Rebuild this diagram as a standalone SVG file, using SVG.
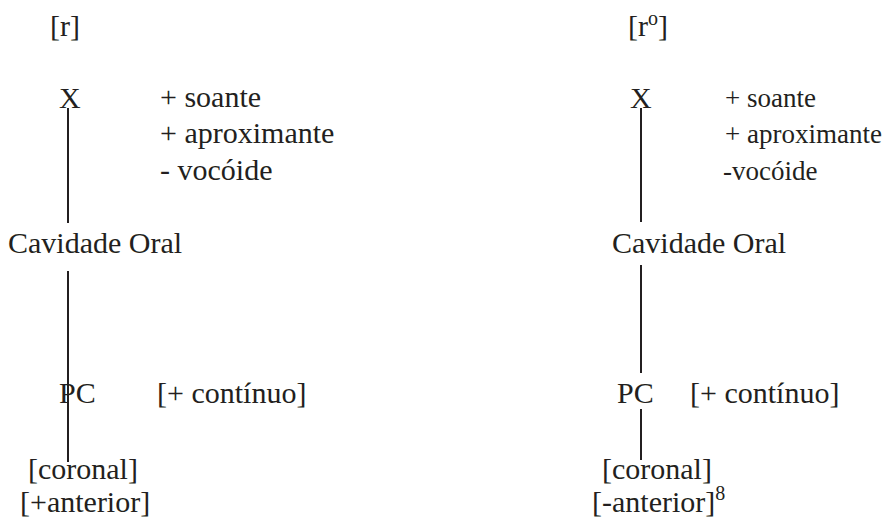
<svg xmlns="http://www.w3.org/2000/svg" width="886" height="517" viewBox="0 0 886 517">
<defs>
<style>
.c{stroke:#231f20;stroke-width:2;fill:none}
.t{font-family:"Liberation Serif","Times New Roman",serif;font-size:30px;fill:#231f20}
.f{font-size:27px}
</style>
</defs>
<rect width="886" height="517" fill="#fff"/>
<g id="connectors">
<line class="c" x1="68" y1="108" x2="68" y2="223"/>
<line class="c" x1="68" y1="271" x2="68" y2="462"/>
<line class="c" x1="641" y1="108" x2="641" y2="222"/>
<line class="c" x1="641" y1="265" x2="641" y2="373"/>
<line class="c" x1="641" y1="409" x2="641" y2="460"/>
</g>
<g class="t">
<g id="left-label"><text x="50" y="36">[r]</text></g>
<g id="left-X"><text x="59" y="108">X</text></g>
<g id="left-features"><text x="160" y="107">+ soante</text><text x="160" y="143">+ aproximante</text><text x="160" y="180">- vocóide</text></g>
<g id="left-cavidade"><text x="8" y="253">Cavidade Oral</text></g>
<g id="left-PC"><text x="59" y="403">PC</text><text x="157" y="403">[+ contínuo]</text></g>
<g id="left-coronal"><text x="28" y="479">[coronal]</text><text x="20" y="512">[+anterior]</text></g>
<g id="right-label"><text x="628" y="36">[r<tspan font-size="20" dy="-11">o</tspan><tspan dy="11">]</tspan></text></g>
<g id="right-X"><text x="630" y="108">X</text></g>
<g id="right-features" class="f"><text x="725" y="107">+ soante</text><text x="725" y="143">+ aproximante</text><text x="723" y="180">-vocóide</text></g>
<g id="right-cavidade"><text x="612" y="253">Cavidade Oral</text></g>
<g id="right-PC"><text x="617" y="403">PC</text><text x="690" y="403">[+ contínuo]</text></g>
<g id="right-coronal"><text x="602" y="479">[coronal]</text><text x="592" y="512">[-anterior]<tspan font-size="20" dy="-12">8</tspan></text></g>
</g>
</svg>
